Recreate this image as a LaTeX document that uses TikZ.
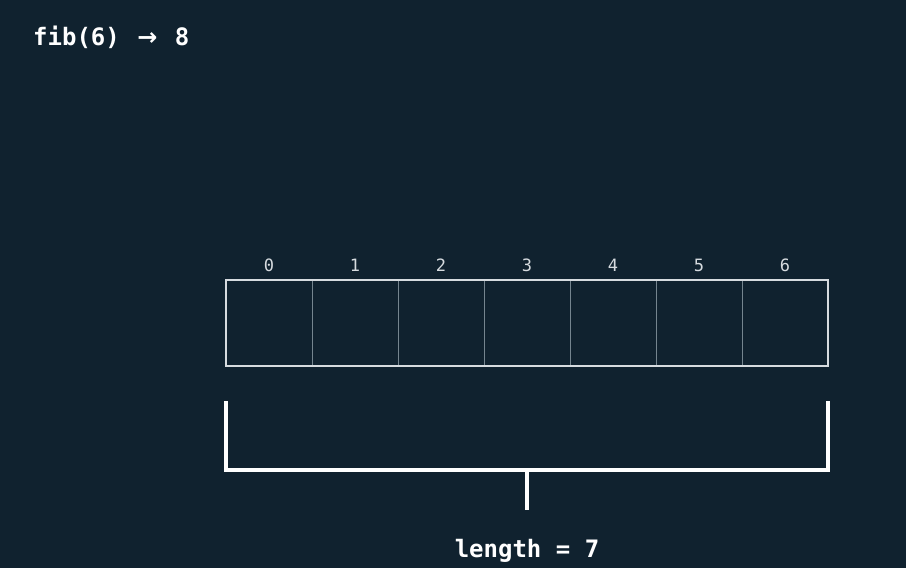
\documentclass[tikz,border=0pt]{standalone}
\usepackage{fontspec}
\setmonofont{DejaVu Sans Mono}
\newfontfamily\arrowfont{DejaVu Sans}
\usepackage{tikz}
\usetikzlibrary{positioning}
\definecolor{bg}{HTML}{10222F}
\definecolor{edge}{HTML}{D6DBDF}
\definecolor{divider}{HTML}{75858F}
\tikzstyle{cell} = [draw=divider,line width=1pt,minimum width=86pt,minimum height=86pt,inner sep=0pt,outer sep=0pt]
\tikzstyle{index} = [text=edge,font=\ttfamily\fontsize{17}{17}\selectfont,anchor=base]
\tikzstyle{heading} = [text=white,font=\ttfamily\bfseries\fontsize{24}{24}\selectfont,anchor=base,inner sep=0pt]
\tikzstyle{brace} = [white,line width=4.5pt]

\begin{document}
\begin{tikzpicture}[x=1pt,y=-1pt]
	\useasboundingbox (0,0) rectangle (906,568);
	\fill[bg] (0,0) rectangle (906,568);

	%Nodes
	\node[heading,anchor=base west] (title) at (33,45) {fib(6) \hspace{3pt}{\arrowfont\bfseries →}\hspace{3pt} 8};

	\node[cell] (c0) at (269,323) {};
	\foreach \i [remember=\i as \j (initially 0)] in {1,...,6}
		\node[cell,right=0pt of c\j] (c\i) {};
	\foreach \i in {0,...,6}
		\node[index] (n\i) at ([yshift=9pt]c\i.north) {\i};

	%Lines
	\draw[edge,line width=2pt] (c0.north west) rectangle (c6.south east);

	\coordinate[below=35pt of c0.south west] (lt);
	\coordinate[below=104pt of c0.south west] (lb);
	\coordinate[below=35pt of c6.south east] (rt);
	\coordinate[below=104pt of c6.south east] (rb);
	\coordinate[below=104pt of c3.south] (mid);
	\coordinate[below=40pt of mid] (tip);
	\draw[brace] (lt) -- (lb) -- (rb) -- (rt);
	\draw[brace] (mid) -- (tip);

	\node[heading] (len) at ([yshift=-47pt]tip) {length = 7};
\end{tikzpicture}
\end{document}
